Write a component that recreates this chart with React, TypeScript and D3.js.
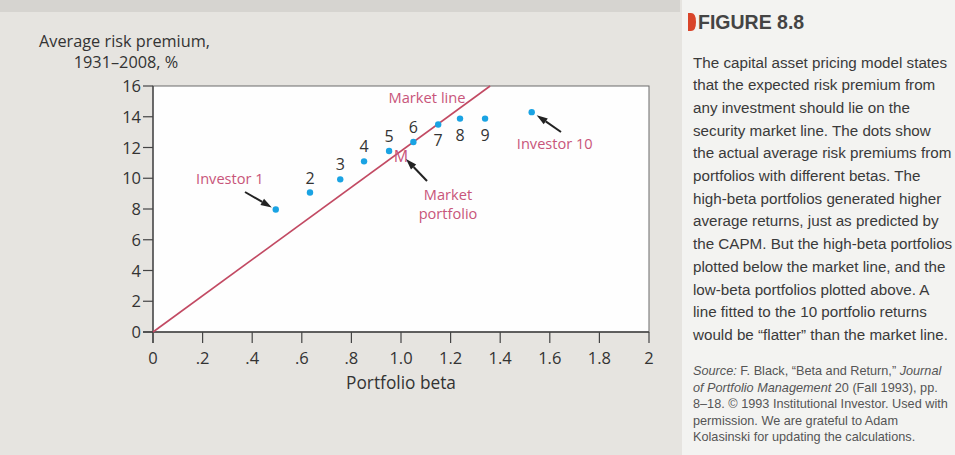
import React from "react";
import * as d3 from "d3";

// ---- data ----
const portfolioLabels = ["Investor 1", "2", "3", "4", "5", "6", "7", "8", "9", "Investor 10"];
const betas = [0.495, 0.633, 0.755, 0.851, 0.952, 1.05, 1.15, 1.238, 1.339, 1.527];
const premiums = [7.97, 9.07, 9.93, 11.1, 11.77, 12.36, 13.5, 13.88, 13.88, 14.3];
const marketSlope = 11.77; // risk premium of the market portfolio (beta = 1)
const yTicks = [0, 2, 4, 6, 8, 10, 12, 14, 16];
const xTicks = [0, 0.2, 0.4, 0.6, 0.8, 1.0, 1.2, 1.4, 1.6, 1.8, 2];
const xTickLabels = ["0", ".2", ".4", ".6", ".8", "1.0", "1.2", "1.4", "1.6", "1.8", "2"];
const yTitle = ["Average risk premium,", "1931–2008, %"];
const xTitle = "Portfolio beta";
const figureTitle = "FIGURE 8.8";
const captionLines = [
  "The capital asset pricing model states",
  "that the expected risk premium from",
  "any investment should lie on the",
  "security market line. The dots show",
  "the actual average risk premiums from",
  "portfolios with different betas. The",
  "high-beta portfolios generated higher",
  "average returns, just as predicted by",
  "the CAPM. But the high-beta portfolios",
  "plotted below the market line, and the",
  "low-beta portfolios plotted above. A",
  "line fitted to the 10 portfolio returns",
  "would be \u201cflatter\u201d than the market line.",
];
// source lines: segments [text, italic]
const sourceLines: [string, boolean][][] = [
  [["Source:", true], [" F. Black, \u201cBeta and Return,\u201d ", false], ["Journal", true]],
  [["of Portfolio Management", true], [" 20 (Fall 1993), pp.", false]],
  [["8\u201318. \u00a9 1993 Institutional Investor. Used with", false]],
  [["permission. We are grateful to Adam", false]],
  [["Kolasinski for updating the calculations.", false]],
];

const W = 955;
const H = 455;
const LABEL = "#c8557a";
const DOT = "#1aa3e3";
const SANS = "'Open Sans', 'Noto Sans', sans-serif";
const NARROW = "'Liberation Sans Narrow', 'Liberation Sans', Arial, sans-serif";

function Arrow({ x1, y1, x2, y2 }: { x1: number; y1: number; x2: number; y2: number }) {
  // arrow pointing from (x1,y1) to (x2,y2)
  const ang = Math.atan2(y2 - y1, x2 - x1);
  const len = 11;
  const half = 3.6;
  const bx = x2 - len * Math.cos(ang);
  const by = y2 - len * Math.sin(ang);
  const px = -Math.sin(ang) * half;
  const py = Math.cos(ang) * half;
  return (
    <g>
      <line x1={x1} y1={y1} x2={bx} y2={by} stroke="#222" strokeWidth={2} />
      <path d={`M${x2},${y2}L${bx + px},${by + py}L${bx - px},${by - py}Z`} fill="#222" />
    </g>
  );
}

export default function App() {
  const x = d3.scaleLinear().domain([0, 2]).range([153, 649]);
  const y = d3.scaleLinear().domain([0, 16]).range([332, 86]);
  const topBeta = 16 / marketSlope;
  const linePath = d3.line<number>()
    .x((b) => x(b))
    .y((b) => y(b * marketSlope))([0, topBeta]);

  return (
    <svg
      width={W}
      height={H}
      style={{ position: "fixed", left: 0, top: 0 }}
      xmlns="http://www.w3.org/2000/svg"
    >
      {/* background paper */}
      <rect x={0} y={0} width={W} height={H} fill="#e6e4e0" />
      <rect x={0} y={0} width={680} height={12} fill="#d6d4d0" />
      <rect x={682} y={0} width={W - 682} height={H} fill="#f3f3f1" />

      {/* plot area */}
      <rect x={x(0)} y={y(16)} width={x(2) - x(0)} height={y(0) - y(16)} fill="#fefefe" stroke="#6a6a6a" strokeWidth={1} />

      {/* axes */}
      <line x1={x(0)} y1={y(16)} x2={x(0)} y2={y(0) + 11} stroke="#444" strokeWidth={1.3} />
      <line x1={x(0) - 10} y1={y(0)} x2={x(2)} y2={y(0)} stroke="#444" strokeWidth={1.3} />

      {yTicks.map((t) => (
        <g key={"y" + t}>
          <line x1={x(0) - 10} x2={x(0)} y1={y(t)} y2={y(t)} stroke="#444" strokeWidth={1.2} />
          <text x={x(0) - 12} y={y(t) + 6} textAnchor="end" fontFamily={SANS} fontSize={16.5} fill="#333">
            {t}
          </text>
        </g>
      ))}
      {xTicks.map((t, i) => (
        <g key={"x" + t}>
          <line x1={x(t)} x2={x(t)} y1={y(0)} y2={y(0) + 11} stroke="#444" strokeWidth={1.2} />
          <text x={x(t)} y={y(0) + 32} textAnchor="middle" fontFamily={SANS} fontSize={16.5} fill="#333">
            {xTickLabels[i]}
          </text>
        </g>
      ))}

      {/* axis titles */}
      <text x={39} y={47} fontFamily={SANS} fontSize={16.3} fill="#333">{yTitle[0]}</text>
      <text x={126} y={68} textAnchor="middle" fontFamily={SANS} fontSize={16.3} fill="#333">{yTitle[1]}</text>
      <text x={401} y={389} textAnchor="middle" fontFamily={SANS} fontSize={17.3} fill="#333">{xTitle}</text>

      {/* market line */}
      <path d={linePath || ""} stroke="#c24a63" strokeWidth={1.6} fill="none" />
      <text x={x(1.105)} y={y(14.9)} textAnchor="middle" fontFamily={SANS} fontSize={14.7} fill={LABEL}>Market line</text>

      {/* points */}
      {betas.map((b, i) => (
        <circle key={"p" + i} cx={x(b)} cy={y(premiums[i])} r={3.2} fill={DOT} />
      ))}
      {portfolioLabels.map((lab, i) => {
        if (i === 0 || i === portfolioLabels.length - 1) return null;
        const below = i >= 6;
        return (
          <text
            key={"l" + i}
            x={x(betas[i])}
            y={y(premiums[i]) + (below ? 22 : -9)}
            textAnchor="middle"
            fontFamily={SANS}
            fontSize={16}
            fill="#333"
          >
            {lab}
          </text>
        );
      })}

      {/* Investor 1 */}
      <text x={x(0.31)} y={y(9.6)} textAnchor="middle" fontFamily={SANS} fontSize={14.6} fill={LABEL}>{portfolioLabels[0]}</text>
      <Arrow x1={245} y1={192} x2={x(betas[0]) - 4} y2={y(premiums[0]) - 2} />

      {/* Investor 10 */}
      <text x={x(1.62)} y={y(11.9)} textAnchor="middle" fontFamily={SANS} fontSize={14.6} fill={LABEL}>{portfolioLabels[9]}</text>
      <Arrow x1={561} y1={132} x2={x(betas[9]) + 5} y2={y(premiums[9]) + 3} />

      {/* Market portfolio */}
      <text x={x(1.0)} y={y(1 * marketSlope) + 11} textAnchor="middle" fontFamily={SANS} fontSize={16} fill={LABEL}>M</text>
      <Arrow x1={427} y1={181} x2={406} y2={159} />
      <text x={448} y={200} textAnchor="middle" fontFamily={SANS} fontSize={14.6} fill={LABEL}>Market</text>
      <text x={448} y={219} textAnchor="middle" fontFamily={SANS} fontSize={14.6} fill={LABEL}>portfolio</text>

      {/* caption panel */}
      <path d="M688,13 L691,13 Q696,13 696,22 Q696,31 691,31 L688,31 Z" fill="#d9452a" />
      <text x={698} y={29} fontFamily={NARROW} fontWeight="bold" fontSize={19.5} fill="#444">{figureTitle}</text>
      {captionLines.map((ln, i) => (
        <text key={"c" + i} x={693} y={67.5 + i * 22.7} fontFamily={NARROW} fontSize={15.2} fill="#3a3a3a">
          {ln}
        </text>
      ))}
      {sourceLines.map((segs, i) => (
        <text key={"s" + i} x={693} y={375} fontFamily={NARROW} fontSize={12.7} fill="#555" dy={i * 16.6}>
          {segs.map(([t, it], j) => (
            <tspan key={j} fontStyle={it ? "italic" : "normal"}>{t}</tspan>
          ))}
        </text>
      ))}
    </svg>
  );
}
